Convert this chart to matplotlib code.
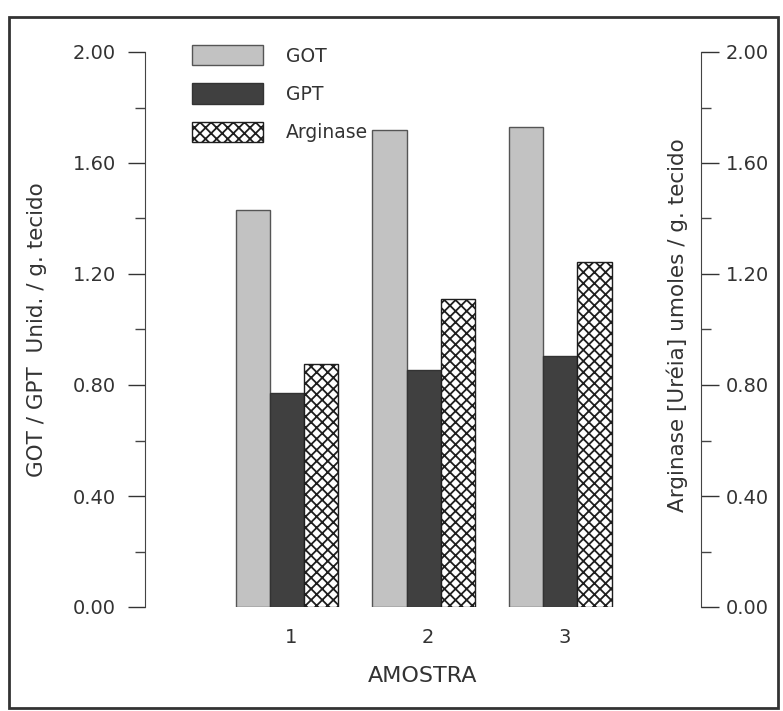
import matplotlib.pyplot as plt
import numpy as np
from matplotlib.patches import Patch, Rectangle
from matplotlib.ticker import MultipleLocator

plt.rcParams['font.family'] = ['DejaVu Sans']
plt.rcParams['hatch.linewidth'] = 1.3

samples = ["1", "2", "3"]
got = [1.43, 1.72, 1.73]
gpt = [0.77, 0.855, 0.905]
arginase = [0.875, 1.11, 1.245]

W, H = 783, 711
fig = plt.figure(figsize=(W / 100, H / 100), dpi=100)
ax = fig.add_axes([145 / W, 1 - 607 / H, (701 - 145) / W, (607 - 52) / H])

x = np.arange(1, len(samples) + 1)
bw = 0.25

ax.bar(x - bw, got, bw, color="#c2c2c2", edgecolor="#555555", linewidth=1, label="GOT")
ax.bar(x, gpt, bw, color="#404040", edgecolor="#333333", linewidth=1, label="GPT")
ax.bar(x + bw, arginase, bw, color="white", edgecolor="#1e1e1e", hatch="xxx",
       linewidth=1, label="Arginase")

ax.set_xlim(-0.04, 4.03)
ax.set_ylim(0, 2.0)
ax.set_xticks(x + 0.03)
ax.set_xticklabels(samples)
ax.tick_params(axis="x", length=0, pad=15, labelsize=14, colors="#333333")
ax.set_xlabel("AMOSTRA", fontsize=16, color="#333333", labelpad=14)

for s in ["top", "right", "bottom"]:
    ax.spines[s].set_visible(False)
ax.spines["left"].set_color("#444444")
ax.yaxis.set_major_locator(MultipleLocator(0.4))
ax.yaxis.set_minor_locator(MultipleLocator(0.2))
ax.yaxis.set_major_formatter(lambda v, p: f"{v:.2f}")
ax.tick_params(axis="y", which="major", length=12, width=1, pad=9,
               labelsize=14, colors="#333333")
ax.tick_params(axis="y", which="minor", length=7, width=1, colors="#444444")

ax2 = ax.twinx()
ax2.set_ylim(0, 2.0)
for s in ["top", "left", "bottom"]:
    ax2.spines[s].set_visible(False)
ax2.spines["right"].set_color("#444444")
ax2.yaxis.set_major_locator(MultipleLocator(0.4))
ax2.yaxis.set_minor_locator(MultipleLocator(0.2))
ax2.yaxis.set_major_formatter(lambda v, p: f"{v:.2f}")
ax2.tick_params(axis="y", which="major", length=13, width=1, pad=5,
                labelsize=14, colors="#333333")
ax2.tick_params(axis="y", which="minor", length=7, width=1, colors="#444444")

fig.text(37 / W, 1 - 330 / H, "GOT / GPT  Unid. / g. tecido", rotation=90,
         ha="center", va="center", fontsize=15.5, color="#333333")
fig.text(677 / W, 1 - 325 / H, "Arginase [Uréia] umoles / g. tecido", rotation=90,
         ha="center", va="center", fontsize=15.5, color="#333333")

handles = [
    Patch(facecolor="#c2c2c2", edgecolor="#555555", label="GOT"),
    Patch(facecolor="#404040", edgecolor="#333333", label="GPT"),
    Patch(facecolor="white", edgecolor="#1e1e1e", hatch="xxx", label="Arginase"),
]
leg = fig.legend(handles=handles, loc="upper left", bbox_to_anchor=(192 / W, 1 - 45 / H),
                 bbox_transform=fig.transFigure, frameon=False, borderpad=0,
                 handlelength=3.8, handleheight=1.3, labelspacing=0.95,
                 handletextpad=1.2, fontsize=13.5, borderaxespad=0)
for t in leg.get_texts():
    t.set_color("#333333")

fig.patches.append(Rectangle((9 / W, 1 - 708 / H), (778 - 9) / W, (708 - 17) / H,
                             transform=fig.transFigure, fill=False, lw=2,
                             edgecolor="#333333"))

fig.savefig("out.png", dpi=100)
